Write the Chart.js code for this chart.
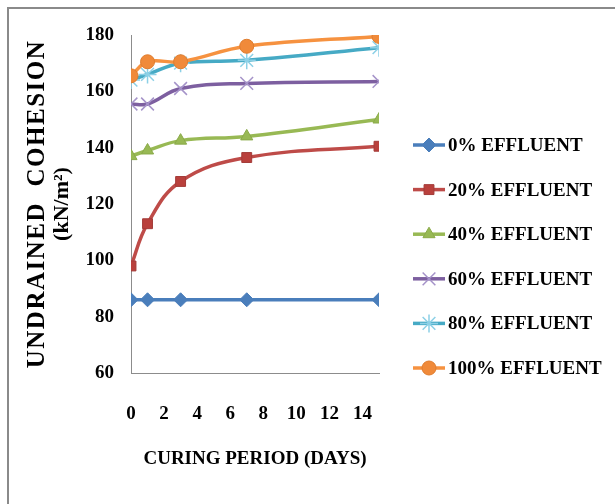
<!DOCTYPE html>
<html>
<head>
<meta charset="utf-8">
<script src="https://cdn.jsdelivr.net/npm/chart.js@4/dist/chart.umd.min.js"></script>
<style>
  html, body { margin: 0; padding: 0; background: #fff; }
  #wrap { width: 615px; height: 504px; position: relative; }
</style>
</head>
<body>
<div id="wrap"><canvas id="cohesionChart" width="615" height="504"></canvas></div>
<script>
// curing period (days)
const days = [0, 1, 3, 7, 15];
const xTicks = [0, 2, 4, 6, 8, 10, 12, 14];
const yTicks = [60, 80, 100, 120, 140, 160, 180];

const seriesNames = ['0% EFFLUENT', '20% EFFLUENT', '40% EFFLUENT', '60% EFFLUENT', '80% EFFLUENT', '100% EFFLUENT'];
const eff0 = [86, 86, 86, 86, 86];
const eff20 = [98, 113, 128, 136.5, 140.5];
const eff40 = [137, 139, 142.5, 144, 150];
const eff60 = [155.5, 155.5, 161, 162.8, 163.5];
const eff80 = [164, 166, 170, 171, 175.5];
const eff100 = [165.5, 170.5, 170.5, 176, 179.5];

const styles = [
  { line: '#4a7ebb', fill: '#4a7ebb', edge: '#4a7ebb', point: 'rectRot', r: 7, bw: 1 },
  { line: '#be4b48', fill: '#b9403c', edge: '#a33b38', point: 'rect', r: 7, bw: 1 },
  { line: '#98b954', fill: '#98b954', edge: '#8aaa48', point: 'triangle', r: 7, bw: 1 },
  { line: '#7d5fa0', fill: 'transparent', edge: '#a593c9', point: 'crossRot', r: 9, bw: 1.5 },
  { line: '#46aac5', fill: 'transparent', edge: '#8cd0e6', point: 'star', r: 9, bw: 1.5 },
  { line: '#f69240', fill: '#f08a3a', edge: '#e07d2e', point: 'circle', r: 7, bw: 1 }
];
const values = [eff0, eff20, eff40, eff60, eff80, eff100];

const datasets = values.map((vals, i) => ({
  label: seriesNames[i],
  data: days.map((d, k) => ({ x: d, y: vals[k] })),
  borderColor: styles[i].line,
  borderWidth: 3.5,
  backgroundColor: styles[i].fill,
  pointStyle: styles[i].point,
  pointRadius: styles[i].r,
  pointBackgroundColor: styles[i].fill,
  pointBorderColor: styles[i].edge,
  pointBorderWidth: styles[i].bw,
  tension: 0.4,
  fill: false,
  order: 5 - i
}));

// frame around the whole picture (only top and left edges are visible)
const framePlugin = {
  id: 'frame',
  beforeDraw(chart) {
    const ctx = chart.ctx;
    ctx.save();
    ctx.fillStyle = '#fff';
    ctx.fillRect(0, 0, chart.width, chart.height);
    ctx.strokeStyle = '#8a8a8a';
    ctx.lineWidth = 2;
    ctx.strokeRect(8, 8, chart.width + 20, chart.height + 20);
    ctx.restore();
  }
};

// rotated y title, two lines
const yTitlePlugin = {
  id: 'yTitle',
  afterDraw(chart) {
    const ctx = chart.ctx;
    const cy = (chart.chartArea.top + chart.chartArea.bottom) / 2;
    ctx.save();
    ctx.fillStyle = '#000';
    ctx.textAlign = 'center';
    ctx.textBaseline = 'middle';
    ctx.translate(38, cy);
    ctx.rotate(-Math.PI / 2);
    ctx.font = 'bold 25px "Liberation Serif"';
    ctx.letterSpacing = '1.5px';
    ctx.fillText('UNDRAINED  COHESION', 0, 0);
    ctx.restore();
    ctx.save();
    ctx.fillStyle = '#000';
    ctx.textAlign = 'center';
    ctx.textBaseline = 'middle';
    ctx.translate(62, cy);
    ctx.rotate(-Math.PI / 2);
    ctx.font = 'bold 22px "Liberation Serif"';
    ctx.fillText('(kN/m\u00B2)', 0, 0);
    ctx.restore();
  }
};

// Excel style legend: line with marker in the middle
const legendPlugin = {
  id: 'sideLegend',
  afterDraw(chart) {
    const ctx = chart.ctx;
    chart.data.datasets.forEach((ds, i) => {
      const y = 145 + i * 44.6;
      ctx.save();
      ctx.strokeStyle = ds.borderColor;
      ctx.lineWidth = 3.5;
      ctx.beginPath();
      ctx.moveTo(413, y);
      ctx.lineTo(445, y);
      ctx.stroke();
      ctx.fillStyle = ds.pointBackgroundColor;
      ctx.strokeStyle = ds.pointBorderColor;
      ctx.lineWidth = ds.pointBorderWidth;
      Chart.helpers.drawPoint(ctx, { pointStyle: ds.pointStyle, radius: ds.pointRadius, rotation: 0, borderWidth: ds.pointBorderWidth }, 429, y);
      ctx.fillStyle = '#000';
      ctx.font = 'bold 19px "Liberation Serif"';
      ctx.textAlign = 'left';
      ctx.textBaseline = 'middle';
      ctx.fillText(ds.label, 448, y + 1);
      ctx.restore();
    });
  }
};

const tickFont = { family: '"Liberation Serif"', size: 19, weight: 'bold' };

new Chart(document.getElementById('cohesionChart').getContext('2d'), {
  type: 'line',
  data: { datasets: datasets },
  options: {
    responsive: false,
    animation: false,
    events: [],
    layout: { padding: { left: 80, right: 236, top: 35, bottom: 18 } },
    plugins: {
      legend: { display: false },
      tooltip: { enabled: false }
    },
    scales: {
      x: {
        type: 'linear',
        min: 0,
        max: 15,
        grid: { display: false, drawTicks: false },
        border: { display: true, color: '#8c8c8c', width: 1 },
        afterBuildTicks: s => { s.ticks = xTicks.map(v => ({ value: v })); },
        afterFit: s => { s.height = 504 - 373 - 18; },
        ticks: { color: '#000', font: tickFont, padding: 30, maxRotation: 0 },
        title: {
          display: true,
          text: 'CURING PERIOD (DAYS)',
          color: '#000',
          font: { family: '"Liberation Serif"', size: 19, weight: 'bold' },
          padding: { top: 0, bottom: 16 }
        }
      },
      y: {
        min: 60,
        max: 180,
        grid: { display: false, drawTicks: false },
        border: { display: true, color: '#8c8c8c', width: 1 },
        afterBuildTicks: s => { s.ticks = yTicks.map(v => ({ value: v })); },
        afterFit: s => { s.width = 131 - 80; },
        ticks: { color: '#000', font: tickFont, padding: 17 }
      }
    }
  },
  plugins: [framePlugin, yTitlePlugin, legendPlugin]
});
</script>
</body>
</html>
